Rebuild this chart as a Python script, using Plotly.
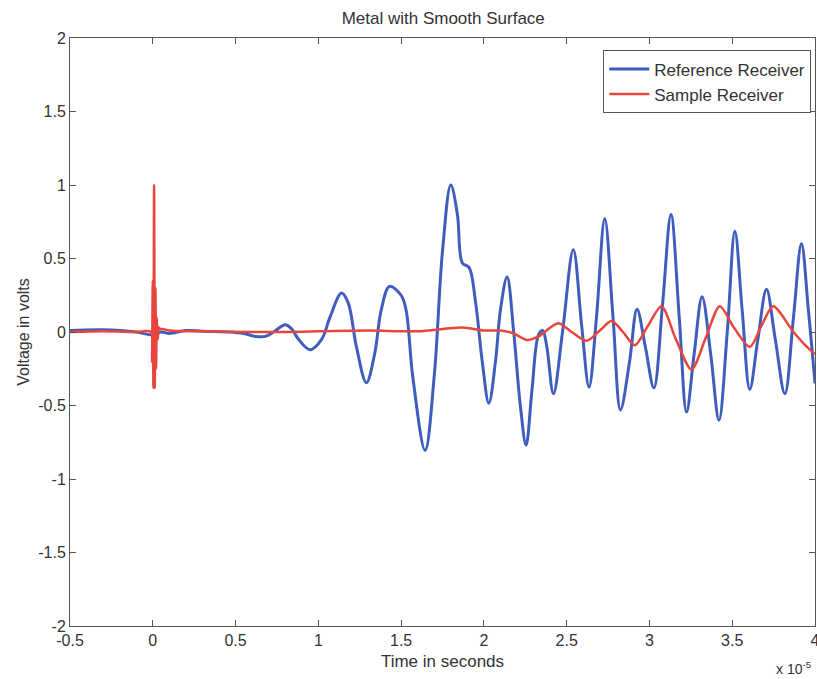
import plotly.graph_objects as go

# Time values are in units of 1e-5 s (axis shows "x 10^-5")
ref_time = [-0.5, -0.3, -0.1, 0.0, 0.05, 0.1, 0.2, 0.3, 0.45, 0.55, 0.62, 0.68, 0.73, 0.8, 0.84,
            0.88, 0.95, 1.02, 1.07, 1.14, 1.18, 1.23, 1.29, 1.34, 1.38, 1.43, 1.5, 1.53, 1.57,
            1.645, 1.7, 1.75, 1.80, 1.84, 1.87, 1.91, 1.95, 1.99, 2.03, 2.07, 2.1, 2.14, 2.18,
            2.22, 2.255, 2.29, 2.33, 2.355, 2.38, 2.42, 2.475, 2.54, 2.59, 2.635, 2.68, 2.73,
            2.78, 2.825, 2.88, 2.925, 2.975, 3.027, 3.08, 3.13, 3.18, 3.224, 3.27, 3.318, 3.37,
            3.42, 3.47, 3.516, 3.56, 3.606, 3.655, 3.707, 3.76, 3.818, 3.87, 3.918, 3.96, 4.0]
ref_volt = [0.01, 0.015, 0.0, -0.02, 0.0, -0.01, 0.01, 0.005, 0.0, -0.01, -0.03, -0.03, 0.0, 0.05, 0.02,
            -0.05, -0.12, -0.05, 0.1, 0.265, 0.2, -0.1, -0.345, -0.15, 0.15, 0.31, 0.25, 0.15, -0.3,
            -0.805, -0.3, 0.55, 1.0, 0.8, 0.47, 0.44, 0.2, -0.2, -0.485, -0.2, 0.15, 0.375, 0.0,
            -0.5, -0.77, -0.4, -0.02, 0.01, -0.1, -0.42, 0.0, 0.56, 0.05, -0.375, 0.1, 0.77,
            0.1, -0.53, -0.2, 0.155, -0.1, -0.38, 0.2, 0.8, 0.1, -0.545, -0.15, 0.24, -0.15,
            -0.6, 0.0, 0.685, 0.15, -0.39, -0.05, 0.29, -0.05, -0.42, 0.1, 0.6, 0.15, -0.35]

smp_time = [-0.5, -0.3, -0.1, -0.01, -0.005, 0.0, 0.004, 0.008, 0.012, 0.016, 0.02, 0.024, 0.03,
            0.036, 0.045, 0.06, 0.1, 0.3, 0.6, 0.8, 1.0, 1.3, 1.6, 1.87, 2.0, 2.1, 2.18, 2.26, 2.33,
            2.449, 2.53, 2.62, 2.70, 2.771, 2.84, 2.912, 2.99, 3.073, 3.16, 3.254, 3.34, 3.425,
            3.51, 3.606, 3.68, 3.747, 3.87, 3.95, 4.0]
smp_volt = [0.0, 0.005, 0.0, 0.0, -0.2, 0.35, -0.38, 1.0, -0.38, 0.3, -0.25, 0.1, -0.05,
            0.03, 0.02, 0.02, 0.01, 0.005, 0.0, 0.0, 0.005, 0.01, 0.005, 0.03, 0.01, 0.01, -0.01, -0.055, -0.03,
            0.06, 0.0, -0.06, 0.01, 0.075, 0.0, -0.09, 0.04, 0.175, -0.05, -0.255, -0.04, 0.175,
            0.03, -0.1, 0.05, 0.175, 0.0, -0.1, -0.15]

x_ticks = [-0.5, 0, 0.5, 1, 1.5, 2, 2.5, 3, 3.5, 4]
x_tick_text = ["-0.5", "0", "0.5", "1", "1.5", "2", "2.5", "3", "3.5", "4"]
y_ticks = [-2, -1.5, -1, -0.5, 0, 0.5, 1, 1.5, 2]
y_tick_text = ["-2", "-1.5", "-1", "-0.5", "0", "0.5", "1", "1.5", "2"]

BLUE = "#3f5dbd"
RED = "#e8453c"
FONT = "Liberation Sans, Arial, sans-serif"
TXT = "#333333"

fig = go.Figure()
fig.add_trace(go.Scatter(x=ref_time, y=ref_volt, mode="lines", name="Reference Receiver",
                         line=dict(color=BLUE, width=3, shape="spline", smoothing=1.0)))
fig.add_trace(go.Scatter(x=smp_time, y=smp_volt, mode="lines", name="Sample Receiver",
                         line=dict(color=RED, width=2.5, shape="spline", smoothing=0.8)))

axis_common = dict(showgrid=False, zeroline=False, showline=True, linecolor="#555555", linewidth=1,
                   mirror="ticks", ticks="inside", ticklen=6, tickcolor="#555555",
                   ticklabeloverflow="allow", automargin=False,
                   tickfont=dict(family=FONT, size=16, color=TXT))

fig.update_layout(
    width=817, height=679,
    margin=dict(l=70, r=2, t=38, b=53),
    paper_bgcolor="white", plot_bgcolor="white",
    title=dict(text="Metal with Smooth Surface", x=0.5425, xanchor="center", y=0.973, yanchor="middle",
               font=dict(family=FONT, size=17, color=TXT)),
    xaxis=dict(range=[-0.5, 4], tickvals=x_ticks, ticktext=x_tick_text,
               title=dict(text="Time in seconds", standoff=6,
                          font=dict(family=FONT, size=17, color=TXT)), **axis_common),
    yaxis=dict(range=[-2, 2], tickvals=y_ticks, ticktext=y_tick_text,
               title=dict(text="Voltage in volts", standoff=4,
                          font=dict(family=FONT, size=16, color=TXT)), **axis_common),
    legend=dict(x=0.995, y=0.979, xanchor="right", yanchor="top", bgcolor="white",
                bordercolor="#555555", borderwidth=1, font=dict(family=FONT, size=17, color=TXT),
                tracegroupgap=0, itemwidth=40),
    showlegend=True,
)

fig.add_annotation(text="x 10<sup>-5</sup>", xref="paper", yref="paper", x=0.998, y=-0.052,
                   xanchor="right", yanchor="top", showarrow=False,
                   font=dict(family=FONT, size=14, color=TXT))

fig.write_html("out.html")
